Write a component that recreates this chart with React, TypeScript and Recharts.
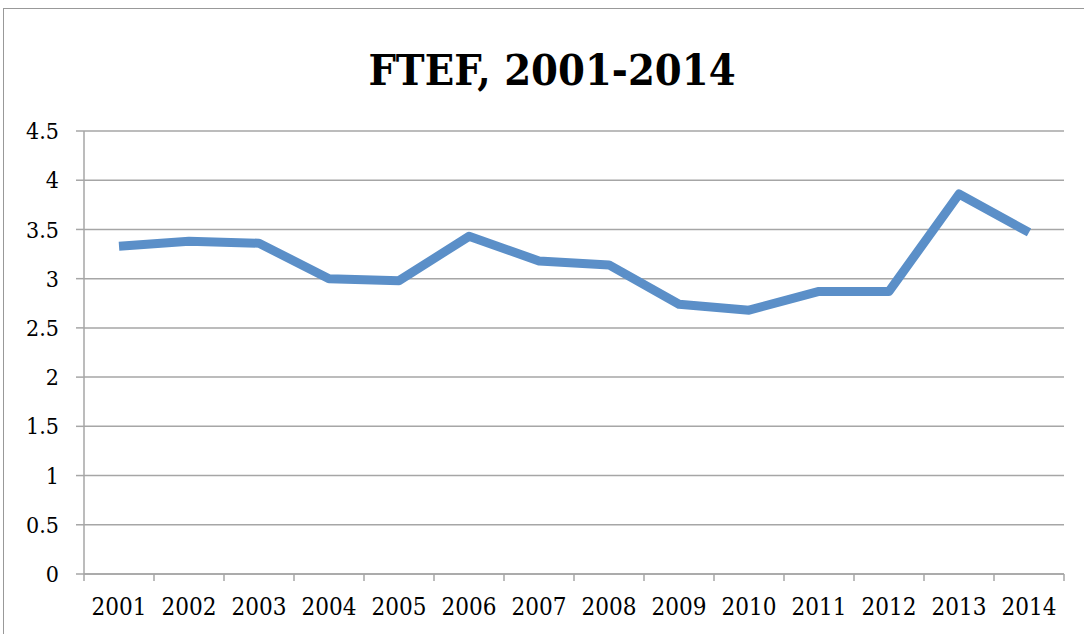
import { CartesianGrid, Line, LineChart, XAxis, YAxis } from "recharts";

const years = ["2001", "2002", "2003", "2004", "2005", "2006", "2007", "2008", "2009", "2010", "2011", "2012", "2013", "2014"];
const ftef = [3.33, 3.38, 3.36, 3.0, 2.98, 3.43, 3.18, 3.14, 2.74, 2.68, 2.87, 2.87, 3.86, 3.47];
const yTicks = [0, 0.5, 1, 1.5, 2, 2.5, 3, 3.5, 4, 4.5];

const data = years.map((year, i) => ({ year, ftef: ftef[i] }));

const gray = "#a6a6a6";
const font = "'DejaVu Serif Condensed', 'DejaVu Serif', serif";

function YearTick(props: any) {
  const { x, y, payload, index } = props;
  const off = payload?.offset ?? 35;
  const top = y - 18 - 7;
  return (
    <g>
      <line x1={x - off} x2={x - off} y1={top} y2={top + 7} stroke={gray} strokeWidth={1.5} />
      {index === years.length - 1 && (
        <line x1={x + off} x2={x + off} y1={top} y2={top + 7} stroke={gray} strokeWidth={1.5} />
      )}
      <text
        x={x}
        y={y}
        dy="0.68em"
        textAnchor="middle"
        fill="#000"
        fontSize={24}
        fontFamily={font}
        style={{ fontStretch: "condensed" }}
      >
        {payload.value}
      </text>
    </g>
  );
}

export default function App() {
  return (
    <div style={{ position: "absolute", left: 0, top: 0, width: 1084, height: 634, overflow: "hidden", background: "#fff" }}>
      <div
        style={{
          position: "absolute",
          left: 3,
          top: 8,
          width: 1120,
          height: 700,
          border: "1.5px solid #999",
          boxSizing: "border-box",
        }}
      />
      <div
        style={{
          position: "absolute",
          left: 0,
          top: 44,
          width: 1104,
          textAlign: "center",
          fontFamily: font,
          fontStretch: "condensed",
          fontWeight: "bold",
          fontSize: 43,
          lineHeight: "52px",
          color: "#000",
        }}
      >
        FTEF, 2001-2014
      </div>
      <div style={{ position: "absolute", left: 0, top: 0 }}>
        <LineChart width={1084} height={634} data={data} margin={{ top: 131, right: 20, bottom: 0, left: 0 }}>
          <CartesianGrid horizontal vertical={false} stroke={gray} strokeWidth={1.5} />
          <XAxis
            dataKey="year"
            scale="band"
            height={60}
            axisLine={{ stroke: gray, strokeWidth: 1.5 }}
            tickLine={false}
            tickSize={7}
            tickMargin={18}
            interval={0}
            tick={<YearTick />}
          />
          <YAxis
            domain={[0, 4.5]}
            ticks={yTicks}
            width={84}
            axisLine={{ stroke: gray, strokeWidth: 1.5 }}
            tickLine={{ stroke: gray, strokeWidth: 1.5 }}
            tickSize={8}
            tickMargin={17}
            tick={{ fill: "#000", fontSize: 23, fontFamily: font, style: { fontStretch: "condensed" } }}
          />
          <Line
            type="linear"
            dataKey="ftef"
            stroke="#5b8fc8"
            strokeWidth={9}
            strokeLinejoin="round"
            dot={false}
            isAnimationActive={false}
          />
        </LineChart>
      </div>
    </div>
  );
}
